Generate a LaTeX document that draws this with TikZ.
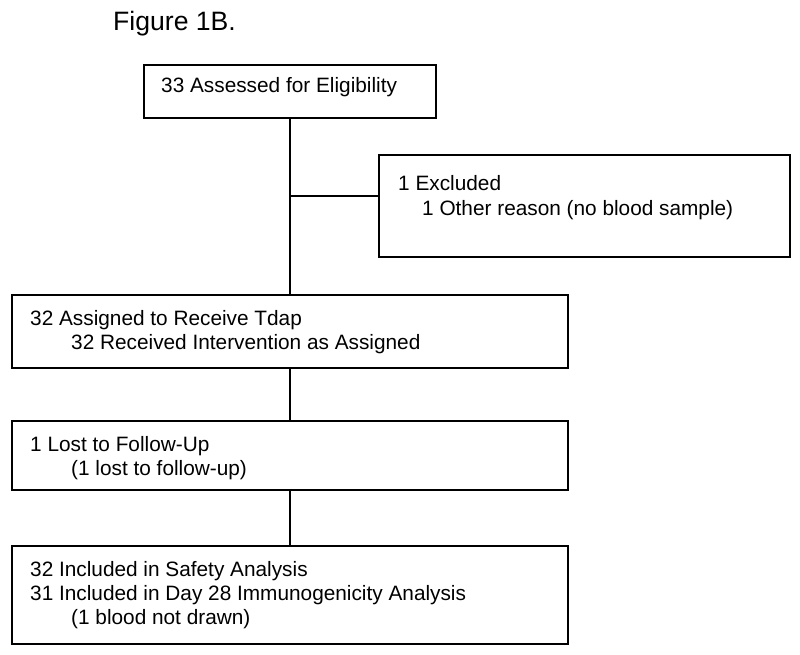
\documentclass[tikz,border=0pt]{standalone}
\usepackage{fontspec}
\setmainfont{Liberation Sans}
\begin{document}
\begin{tikzpicture}[x=1pt,y=-1pt,
  box/.style={draw=black,line width=1.6pt,inner sep=0pt,anchor=north west},
  txt/.style={anchor=base west,inner sep=0pt,font=\fontsize{20.8}{25}\selectfont},
  conn/.style={draw=black,line width=1.6pt}]
\useasboundingbox (0,0) rectangle (800,655);
% title
\node[anchor=base west,inner sep=0pt,font=\fontsize{26.6}{30}\selectfont] (title) at (113,31) {Figure 1B.};
% boxes
\node[box,minimum width=292pt,minimum height=53pt] (b1) at (143,64) {};
\node[box,minimum width=411pt,minimum height=102pt] (b2) at (378,154) {};
\node[box,minimum width=556pt,minimum height=73pt] (b3) at (11,294) {};
\node[box,minimum width=556pt,minimum height=69pt] (b4) at (11,420) {};
\node[box,minimum width=556pt,minimum height=98pt] (b5) at (11,545) {};
% texts
\node[txt] (t1) at (161,93) {33 Assessed for Eligibility};
\node[txt] (t2a) at (398,190) {1 Excluded};
\node[txt] (t2b) at (422,215) {1 Other reason (no blood sample)};
\node[txt] (t3a) at (30,325) {32 Assigned to Receive Tdap};
\node[txt] (t3b) at (71,349) {32 Received Intervention as Assigned};
\node[txt] (t4a) at (30,451) {1 Lost to Follow-Up};
\node[txt] (t4b) at (71,475) {(1 lost to follow-up)};
\node[txt] (t5a) at (30,576) {32 Included in Safety Analysis};
\node[txt] (t5b) at (30,600) {31 Included in Day 28 Immunogenicity Analysis};
\node[txt] (t5c) at (71,624) {(1 blood not drawn)};
% connectors
\coordinate (j) at (289,196);
\draw[conn] (b1.south) -- (b3.north);
\draw[conn] (j) -- (j -| b2.west);
\draw[conn] (b3.south) -- (b4.north);
\draw[conn] (b4.south) -- (b5.north);
\end{tikzpicture}
\end{document}
